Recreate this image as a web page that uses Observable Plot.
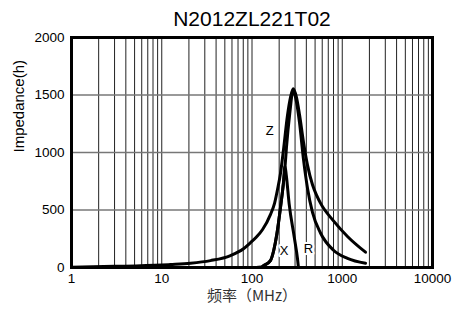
<!DOCTYPE html>
<html><head><meta charset="utf-8">
<script src="https://cdn.jsdelivr.net/npm/d3@7"></script>
<script src="https://cdn.jsdelivr.net/npm/@observablehq/plot@0.6"></script>
<style>body{margin:0;background:#fff}</style>
</head><body><div id="chart"></div>
<script>
const title = "N2012ZL221T02";
const xLabel = "频率（MHz）";
const yLabel = "Impedance(h)";
const xTicks = [1, 10, 100, 1000, 10000];
const yTicks = [0, 500, 1000, 1500, 2000];
const yGrid = [500, 1000, 1500];

const zFreq = [1, 3, 10, 12.5, 20.8, 34.7, 57.8, 80.5, 96, 112, 131, 160, 178, 192, 207, 223, 247, 267, 286, 311, 336, 372, 412, 468, 519, 574, 800, 1143, 1811];
const zVal  = [3, 10, 22, 26, 37, 60, 104, 163, 215, 265, 330, 460, 560, 680, 820, 1020, 1320, 1480, 1554, 1480, 1330, 1090, 890, 720, 630, 560, 405, 270, 133];

const rFreq = [1, 100, 124, 135, 160, 174, 189, 207, 222, 232, 241, 262, 284, 311, 336, 372, 412, 468, 574, 800, 1143, 1811];
const rVal  = [0, 0, 2, 17, 60, 148, 295, 524, 720, 870, 1046, 1339, 1530, 1440, 1260, 940, 690, 480, 300, 150, 80, 37];

const xFreq = [1, 100, 124, 135, 160, 174, 189, 207, 222, 232, 240, 258, 294, 319, 327];
const xVal  = [0, 0, 2, 17, 60, 148, 295, 524, 720, 880, 800, 553, 263, 78, 0];

const curveLabels = ["Z", "X", "R"];
const labelFreq = [157, 227, 423];
const labelVal = [1191, 148, 165];

const toRows = (f, v) => f.map((d, i) => ({f: d, v: v[i]}));
const gridF = [];
for (const d of [1, 10, 100, 1000]) for (let k = 1; k <= 9; k++) if (k * d > 1) gridF.push(k * d);

const labelRows = curveLabels.map((t, i) => ({t, f: labelFreq[i], v: labelVal[i]}));

const chart = Plot.plot({
  width: 467, height: 309,
  marginLeft: 71, marginRight: 35, marginTop: 37, marginBottom: 42,
  style: {fontFamily: "'Liberation Sans', Arial, sans-serif", fontSize: "13.5px", background: "#fff", color: "#000"},
  x: {type: "log", domain: [1, 10000], ticks: xTicks, tickFormat: d => String(d), tickSize: 0, tickPadding: 6, label: null},
  y: {domain: [0, 2000], ticks: yTicks, tickFormat: d => String(d), tickSize: 0, tickPadding: 7, label: null},
  marks: [
    Plot.ruleX(gridF, {x: d => d, stroke: "#222", strokeWidth: 1}),
    Plot.ruleY(yGrid, {y: d => d, stroke: "#777", strokeWidth: 1.3}),
    Plot.line(toRows(zFreq, zVal), {x: "f", y: "v", stroke: "#000", strokeWidth: 3, curve: "monotone-x"}),
    Plot.line(toRows(rFreq, rVal), {x: "f", y: "v", stroke: "#000", strokeWidth: 3, curve: "monotone-x"}),
    Plot.line(toRows(xFreq, xVal), {x: "f", y: "v", stroke: "#000", strokeWidth: 3, curve: "monotone-x"}),
    Plot.text(labelRows, {x: "f", y: "v", text: "t", fontSize: 13, fill: "#000", stroke: "#fff", strokeWidth: 4}),
    Plot.frame({stroke: "#000", strokeWidth: 3}),
    Plot.text([title], {frameAnchor: "top", dy: -18, lineAnchor: "middle", fontSize: 21, fill: "#000"}),
    Plot.text([xLabel], {frameAnchor: "bottom", dy: 29, lineAnchor: "middle", fontSize: 15, fontFamily: "'Noto Sans CJK SC', sans-serif", fill: "#333"}),
    Plot.text([yLabel], {frameAnchor: "left", dx: -52, rotate: -90, lineAnchor: "middle", fontSize: 15, fill: "#000"})
  ]
});
document.getElementById("chart").appendChild(chart);
</script>
</body></html>
